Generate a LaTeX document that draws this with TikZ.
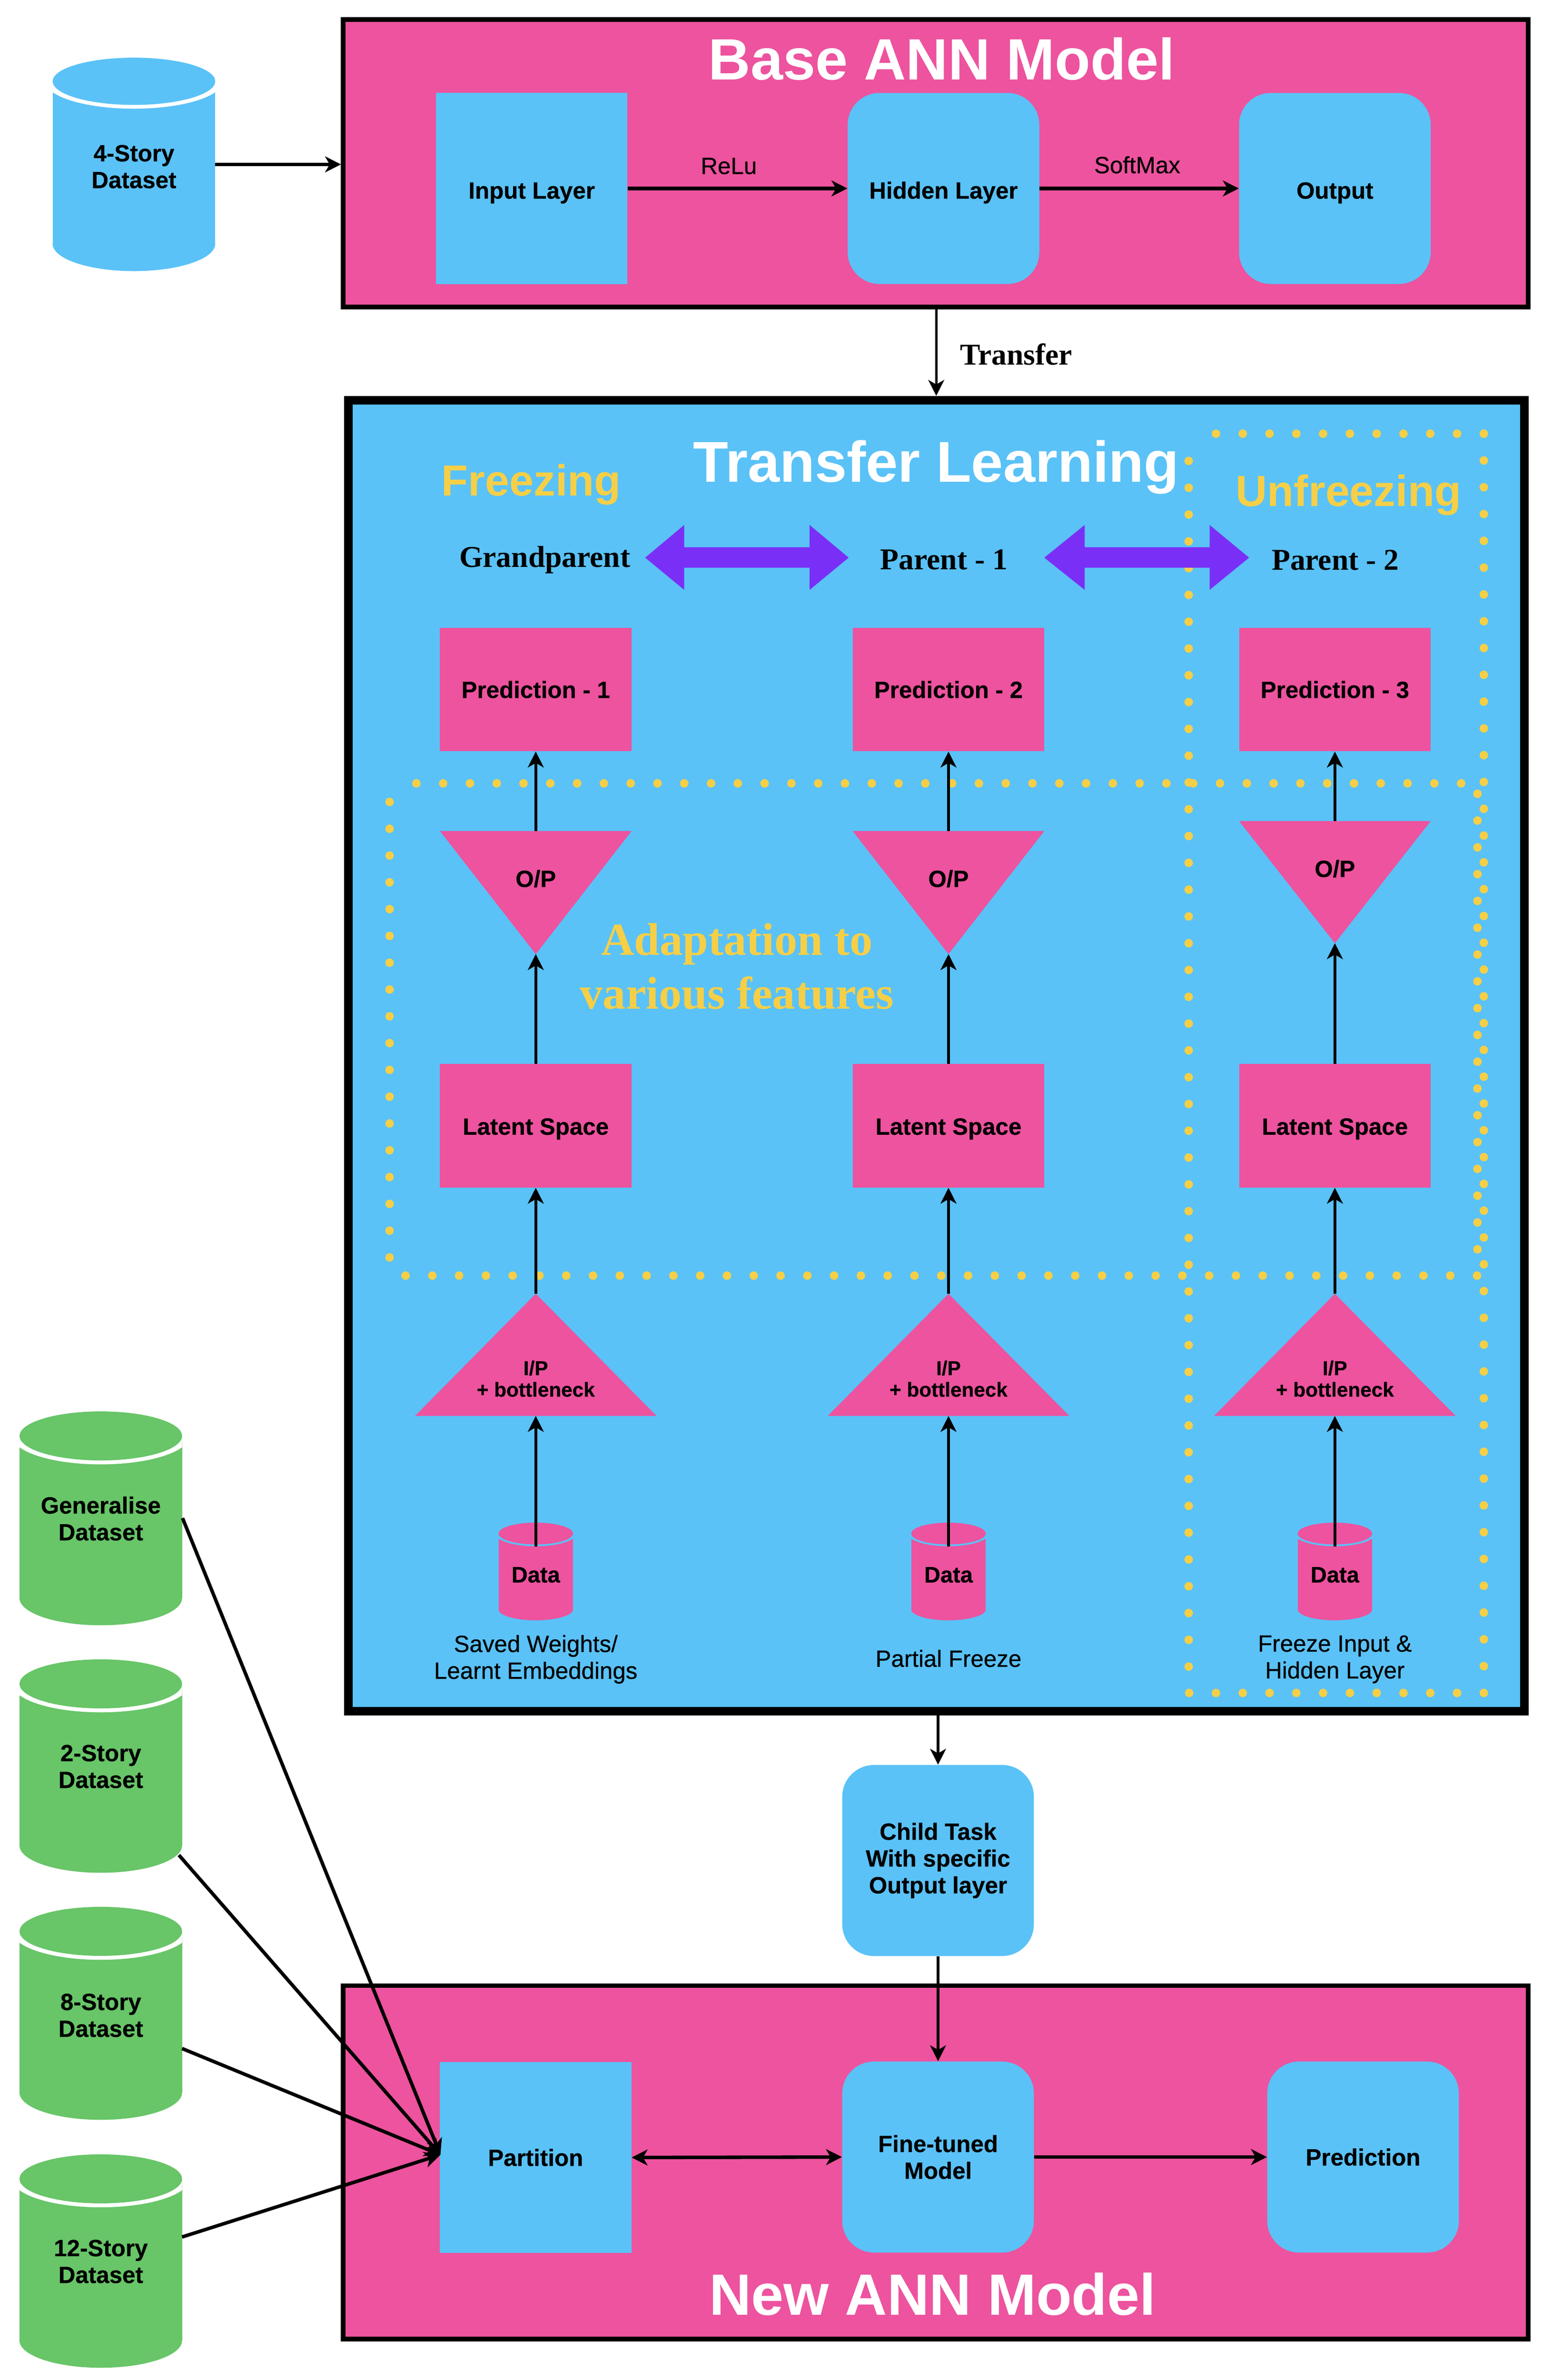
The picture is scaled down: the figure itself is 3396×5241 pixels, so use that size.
\documentclass[tikz,border=0pt]{standalone}
\usepackage{fontspec}
\setmainfont{Liberation Sans}
\newfontfamily\serifbf{Liberation Serif}[BoldFont={Liberation Serif Bold}]
\newfontfamily\medsans{Liberation Sans}[FakeBold=0.5]
\newfontfamily\heavy{Liberation Sans}[BoldFeatures={FakeBold=0.4}]
\usetikzlibrary{arrows.meta}
\definecolor{pinkc}{HTML}{ED539E}
\definecolor{bluec}{HTML}{5AC2F7}
\definecolor{greenc}{HTML}{68C568}
\definecolor{yellowc}{HTML}{F6CF47}
\definecolor{purplec}{HTML}{7A2FF7}
\newcommand{\fs}[1]{\fontsize{#1}{17.7}\selectfont}
\tikzset{
  lab/.style={font=\fs{15.5}\heavy\bfseries,text=black,align=center,inner sep=0pt},
  medlab/.style={font=\fs{15.5}\medsans,text=black,align=center,inner sep=0pt},
  serlab/.style={font=\fontsize{20}{24}\selectfont\serifbf\bfseries,text=black,inner sep=0pt},
  bigtitle/.style={font=\fontsize{38.5}{44}\selectfont\bfseries,text=white,inner sep=0pt},
  yeltitle/.style={font=\fontsize{28.8}{34}\selectfont\bfseries,text=yellowc,inner sep=0pt},
  panel/.style={fill=pinkc,draw=black,line width=3pt,minimum width=783pt,inner sep=0pt},
  sqblue/.style={fill=bluec,minimum width=126.6pt,minimum height=126.2pt,inner sep=0pt,font=\fs{15.5}\heavy\bfseries,align=center},
  rdblue/.style={sqblue,rounded corners=21pt},
  sqpink/.style={fill=pinkc,minimum width=126.6pt,minimum height=81.5pt,inner sep=0pt,font=\fs{15.5}\heavy\bfseries,align=center},
  arr/.style={-{Stealth[length=10.5pt,width=10.5pt,inset=3pt]},line width=1.9pt,black},
  arrthick/.style={arr,line width=2.3pt},
  arrthin/.style={arr,line width=1.6pt},
  lowtext/.style={text height=#1,text depth=3pt},
  dotted box/.style={yellowc,line width=5.6pt,line cap=round,dash pattern=on 0pt off 17.7pt},
}
% name, cx, rx, top, bottom, ry top, ry bottom, fill, gap colour
\newcommand{\dbcyl}[9]{%
  \pgfmathsetmacro{\cxl}{#2-#3}\pgfmathsetmacro{\cxr}{#2+#3}%
  \pgfmathsetmacro{\cyt}{#4+#6}\pgfmathsetmacro{\cyb}{#5-#7}%
  \pgfmathsetmacro{\crx}{1.09*#3}\pgfmathsetmacro{\cry}{1.16*#6}%
  \pgfmathsetmacro{\cym}{(#4+#5)/2}%
  \fill[#8] (\cxl,\cyt) rectangle (\cxr,\cyb);
  \fill[#8] (#2,\cyb) ellipse [x radius=#3,y radius=#7];
  \begin{scope}
    \clip (\cxl,\cyt) rectangle (\cxr,\cyb);
    \fill[#9] (#2,\cyt) ellipse [x radius=\crx,y radius=\cry];
  \end{scope}
  \fill[#8] (#2,\cyt) ellipse [x radius=#3,y radius=#6];
  \node[inner sep=0pt,outer sep=0pt,minimum width=#3*0.6pt,minimum height=10pt] (#1) at (#2,\cym) {};
}
% column: index, x, O/P top, O/P apex, O/P text y, prediction text
\newcommand{\tlcol}[6]{%
  \pgfmathsetmacro{\tl}{#2-211}\pgfmathsetmacro{\tr}{#2+211}%
  \pgfmathsetmacro{\bl}{#2-266}\pgfmathsetmacro{\br}{#2+266}%
  \node[sqpink] (pred#1) at (#2,1518.5) {#6};
  \node[sqpink,lowtext=14.8pt] (lat#1) at (#2,2479) {Latent Space};
  \fill[pinkc] (\tl,#3) -- (\tr,#3) -- (#2,#4) -- cycle;
  \coordinate (optop#1) at (#2,#3);
  \coordinate (opapex#1) at (#2,#4);
  \node[lab] (op#1) at (#2,#5) {O/P};
  \fill[pinkc] (#2,2849) -- (\br,3118) -- (\bl,3118) -- cycle;
  \coordinate (iptop#1) at (#2,2849);
  \coordinate (ipbase#1) at (#2,3118);
  \node[lab,font=\fontsize{13.3}{14.2}\selectfont\heavy\bfseries] (ip#1) at (#2,3036) {I/P\\+ bottleneck};
  \dbcyl{data#1}{#2}{82}{3353}{3568}{24}{24}{pinkc}{bluec}
  \coordinate (dataout#1) at (#2,3406);
  \node[lab,font=\fontsize{14.8}{17}\selectfont\heavy\bfseries] (datat#1) at (#2,3468) {Data};
  \draw[arr] (dataout#1) -- (ipbase#1);
  \draw[arr] (iptop#1) -- (lat#1.south);
  \draw[arr] (lat#1.north) -- (opapex#1);
  \draw[arr] (optop#1) -- (pred#1.south);
}
\begin{document}
\begin{tikzpicture}[x=0.3pt,y=-0.3pt]
\useasboundingbox (0,0) rectangle (3396,5241);
\fill[white] (0,0) rectangle (3396,5241);
% ---- Base ANN Model
\node[panel,minimum height=190pt] (base) at (2061,359.5) {};
\node[bigtitle] (baset) at (2074,130) {Base ANN Model};
\node[sqblue,lowtext=16.5pt] (input) at (1171,415) {Input Layer};
\node[rdblue,lowtext=16.5pt] (hidden) at (2078,415) {Hidden Layer};
\node[rdblue,lowtext=16.5pt] (output) at (2940,415) {Output};
\draw[arrthick] (input.east) -- (hidden.west) node[medlab,pos=0.46,yshift=14.8pt] (relu) {ReLu};
\draw[arrthick] (hidden.east) -- (output.west) node[medlab,pos=0.49,yshift=15.6pt] (softmax) {SoftMax};
\dbcyl{ds4}{295}{179}{127}{597}{52}{60}{bluec}{white}
\node[lab] (ds4t) at (295,367) {4-Story\\Dataset};
\draw[arrthick] (ds4.east -| 474,0) -- (ds4.east -| base.west);
% ---- Transfer Learning
\node[fill=bluec,draw=black,line width=5.7pt,minimum width=777pt,minimum height=866pt,inner sep=0pt] (tl) at (2062,2324.5) {};
\draw[arrthin] (tl.north |- base.south) -- (tl.north) node[serlab,pos=0.52,right=15pt] (transfer) {Transfer};
\draw[dotted box] (2678,955) -- (3268,955) -- (3268,3728) -- (2618,3728) -- (2618,1014);
\draw[dotted box] (917,1725) -- (3254,1725) -- (3254,2809) -- (877,2809);
\draw[dotted box] (858,2769) -- (858,1766);
\node[bigtitle,font=\fontsize{38}{44}\selectfont\bfseries] (tlt) at (2062,1029) {Transfer Learning};
\node[yeltitle] (freeze) at (1170,1067) {Freezing};
\node[yeltitle] (unfreeze) at (2970,1090) {Unfreezing};
\node[serlab] (gp) at (1200,1233) {Grandparent};
\node[serlab] (p1) at (2079,1233) {Parent - 1};
\node[serlab] (p2) at (2941,1233) {Parent - 2};
\fill[purplec] (1421,1228) -- (1507,1156) -- (1507,1205) -- (1783,1205) -- (1783,1156) -- (1869,1228) -- (1783,1299) -- (1783,1250) -- (1507,1250) -- (1507,1299) -- cycle;
\fill[purplec] (2300,1228) -- (2389,1156) -- (2389,1205) -- (2664,1205) -- (2664,1156) -- (2751,1228) -- (2664,1299) -- (2664,1250) -- (2389,1250) -- (2389,1299) -- cycle;
\tlcol{1}{1180}{1830}{2101}{1935}{Prediction - 1}
\tlcol{2}{2089}{1830}{2101}{1935}{Prediction - 2}
\tlcol{3}{2940}{1808}{2077}{1913}{Prediction - 3}
\node[font=\fontsize{30.3}{35.4}\selectfont\serifbf\bfseries,text=yellowc,align=center,inner sep=0pt] (adapt) at (1623,2128) {Adaptation to\\various features};
\node[medlab] (cap1) at (1180,3654) {Saved Weights/\\Learnt Embeddings};
\node[medlab] (cap2) at (2089,3652) {Partial Freeze};
\node[medlab] (cap3) at (2940,3654) {Freeze Input \&\\Hidden Layer};
% ---- Child + New ANN Model
\node[rdblue] (child) at (2066,4097) {Child Task\\With specific\\Output layer};
\draw[arrthin] (child.north |- tl.south) -- (child.north);
\node[panel,minimum height=233.5pt] (new) at (2061,4761.5) {};
\node[sqblue] (part) at (1179.5,4751) {Partition};
\node[rdblue] (fine) at (2066,4750) {Fine-tuned\\Model};
\node[rdblue] (predn) at (3002,4750) {Prediction};
\node[bigtitle] (newt) at (2054,5052) {New ANN Model};
\draw[arrthin] (child.south) -- (fine.north);
\draw[{Stealth[length=10.5pt,width=10.5pt,inset=3pt]}-{Stealth[length=10.5pt,width=10.5pt,inset=3pt]},line width=2.3pt] (part.east) -- (fine.west);
\draw[arrthick] (fine.east) -- (predn.west);
% ---- Datasets
\dbcyl{gen}{222}{179}{3108}{3579}{54}{60}{greenc}{white}
\dbcyl{two}{222}{179}{3654}{4124}{54}{60}{greenc}{white}
\dbcyl{eight}{222}{179}{4199}{4668}{54}{60}{greenc}{white}
\dbcyl{twelve}{222}{179}{4744}{5214}{54}{60}{greenc}{white}
\node[lab] (gent) at (222,3344) {Generalise\\Dataset};
\node[lab] (twot) at (222,3890) {2-Story\\Dataset};
\node[lab] (eightt) at (222,4438) {8-Story\\Dataset};
\node[lab] (twelvet) at (222,4980) {12-Story\\Dataset};
\coordinate (merge) at (970,4745);
\coordinate (genout) at (402,3343);
\coordinate (twoout) at (394,4085);
\coordinate (eightout) at (401,4511);
\coordinate (twelveout) at (401,4926);
\draw[arrthick] (genout) -- (merge);
\draw[arrthick] (twoout) -- (merge);
\draw[arrthick] (eightout) -- (merge);
\draw[arrthick] (twelveout) -- (merge);
\end{tikzpicture}
\end{document}
